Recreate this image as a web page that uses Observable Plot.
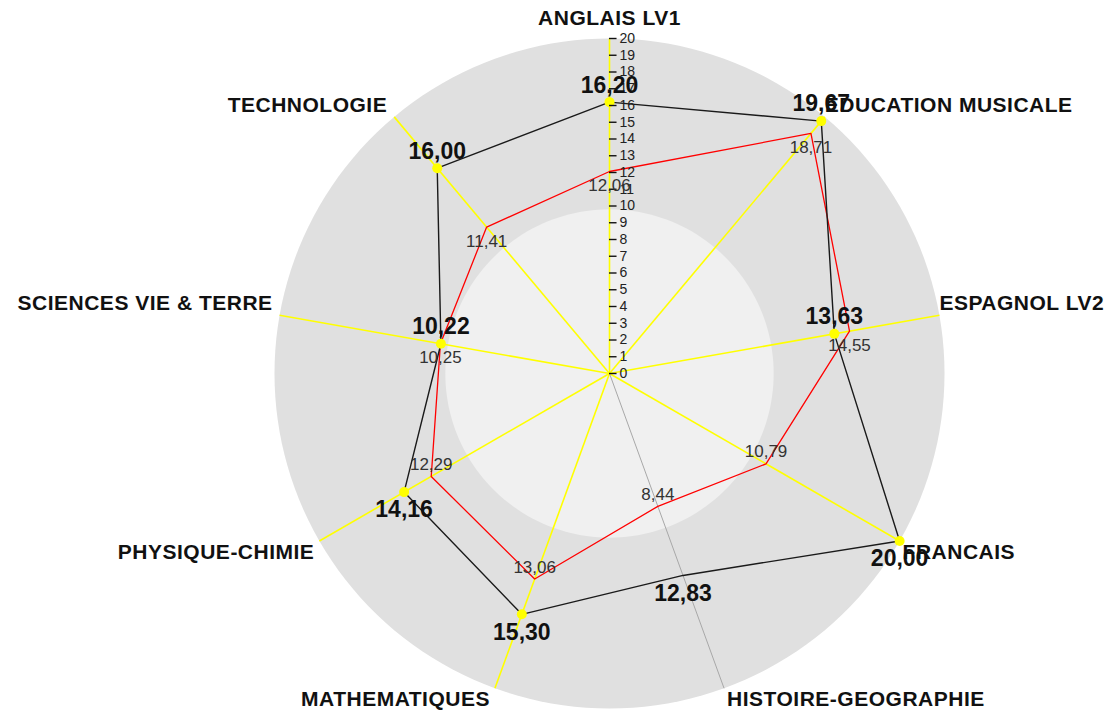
<!DOCTYPE html>
<html>
<head>
<meta charset="utf-8">
<script src="https://cdn.jsdelivr.net/npm/d3@7"></script>
<script src="https://cdn.jsdelivr.net/npm/@observablehq/plot@0.6"></script>
<style>
  html, body { margin: 0; padding: 0; background: #ffffff; }
</style>
</head>
<body>
<div id="chart"></div>
<script>
// ---- data ----
const subjects = ["ANGLAIS LV1", "EDUCATION MUSICALE", "ESPAGNOL LV2", "FRANCAIS",
  "HISTOIRE-GEOGRAPHIE", "MATHEMATIQUES", "PHYSIQUE-CHIMIE", "SCIENCES VIE & TERRE", "TECHNOLOGIE"];
const eleve = [16.20, 19.67, 13.63, 20.00, 12.83, 15.30, 14.16, 10.22, 16.00];
const classe = [12.06, 18.71, 14.55, 10.79, 8.44, 13.06, 12.29, 10.25, 11.41];
const tickValues = [0,1,2,3,4,5,6,7,8,9,10,11,12,13,14,15,16,17,18,19,20];
const maxValue = 20;
const innerValue = 9.8;

// ---- helpers ----
const rad = d => d * Math.PI / 180;
const n = subjects.length;
const angleOf = i => i * 360 / n;
const px = (v, a) => v * Math.sin(rad(a));
const py = (v, a) => v * Math.cos(rad(a));
const fmt = v => v.toFixed(2).replace(".", ",");

const axes = subjects.map((s, i) => ({s, a: angleOf(i)}));
const serie = vals => subjects.map((s, i) => ({s, v: vals[i], a: angleOf(i)}));
const eleveData = serie(eleve);
const classeData = serie(classe);
const circle = r => d3.range(0, 361, 2).map(a => ({x: px(r, a), y: py(r, a)}));

const isUpper = d => Math.cos(rad(d.a)) > 0;
const sinA = d => Math.sin(rad(d.a));

const font = "Liberation Sans, Arial, sans-serif";
const catSize = 21;

const chart = Plot.plot({
  width: 1115,
  height: 714,
  marginLeft: 274,
  marginRight: 171,
  marginTop: 38,
  marginBottom: 6,
  x: {domain: [-maxValue, maxValue], axis: null},
  y: {domain: [-maxValue, maxValue], axis: null},
  style: {fontFamily: font, background: "#ffffff", overflow: "visible"},
  marks: [
    // background discs
    Plot.line(circle(maxValue), {x: "x", y: "y", fill: "#e0e0e0", stroke: "none"}),
    Plot.line(circle(innerValue), {x: "x", y: "y", fill: "#f0f0f0", stroke: "none"}),
    // axes
    Plot.link(axes.filter(d => d.s !== "HISTOIRE-GEOGRAPHIE"), {
      x1: d => 0, y1: d => 0, x2: d => px(maxValue, d.a), y2: d => py(maxValue, d.a),
      stroke: "#ffff00", strokeWidth: 1.6
    }),
    Plot.link(axes.filter(d => d.s === "HISTOIRE-GEOGRAPHIE"), {
      x1: d => 0, y1: d => 0, x2: d => px(maxValue, d.a), y2: d => py(maxValue, d.a),
      stroke: "#a8a8a8", strokeWidth: 1
    }),
    // series polygons
    Plot.line(classeData, {x: d => px(d.v, d.a), y: d => py(d.v, d.a), curve: "linear-closed",
      stroke: "#ff0000", strokeWidth: 1.3}),
    Plot.line(eleveData, {x: d => px(d.v, d.a), y: d => py(d.v, d.a), curve: "linear-closed",
      stroke: "#1a1a1a", strokeWidth: 1.4}),
    // yellow markers on eleve points
    Plot.dot(eleveData.filter(d => d.s !== "HISTOIRE-GEOGRAPHIE"), {
      x: d => px(d.v, d.a), y: d => py(d.v, d.a), r: 5, fill: "#ffff00", stroke: "none"
    }),
    // scale ticks on first axis
    Plot.ruleY(tickValues, {y: d => d, x1: d => 0, x2: d => 0.45, stroke: "#111", strokeWidth: 1.4}),
    Plot.text(tickValues, {x: d => 0, y: d => d, text: d => String(d), dx: 10, textAnchor: "start",
      fontSize: 14, fill: "#222", fontFamily: font}),
    // classe value labels
    Plot.text(classeData.filter(isUpper), {x: d => px(d.v, d.a), y: d => py(d.v, d.a), text: d => fmt(d.v),
      dy: 14, fontSize: 17, fill: "#333", fontFamily: font}),
    Plot.text(classeData.filter(d => !isUpper(d)), {x: d => px(d.v, d.a), y: d => py(d.v, d.a), text: d => fmt(d.v),
      dy: -12, fontSize: 17, fill: "#333", fontFamily: font}),
    // eleve value labels
    Plot.text(eleveData.filter(isUpper), {x: d => px(d.v, d.a), y: d => py(d.v, d.a), text: d => fmt(d.v),
      dy: -17, fontSize: 23, fontWeight: "bold", fill: "#111", fontFamily: font}),
    Plot.text(eleveData.filter(d => !isUpper(d)), {x: d => px(d.v, d.a), y: d => py(d.v, d.a), text: d => fmt(d.v),
      dy: 18, fontSize: 23, fontWeight: "bold", fill: "#111", fontFamily: font}),
    // category labels
    Plot.text(axes.filter(d => Math.abs(sinA(d)) < 0.1), {x: d => px(maxValue, d.a), y: d => py(maxValue, d.a),
      text: "s", dy: -20, textAnchor: "middle", fontSize: catSize, fontWeight: "bold", fill: "#111", fontFamily: font}),
    Plot.text(axes.filter(d => sinA(d) >= 0.1 && isUpper(d)), {x: d => px(maxValue, d.a), y: d => py(maxValue, d.a),
      text: "s", dx: 0, dy: -12, textAnchor: "start", fontSize: catSize, fontWeight: "bold", fill: "#111", fontFamily: font}),
    Plot.text(axes.filter(d => sinA(d) >= 0.1 && !isUpper(d)), {x: d => px(maxValue, d.a), y: d => py(maxValue, d.a),
      text: "s", dx: 3, dy: 11, textAnchor: "start", fontSize: catSize, fontWeight: "bold", fill: "#111", fontFamily: font}),
    Plot.text(axes.filter(d => sinA(d) <= -0.1 && !isUpper(d)), {x: d => px(maxValue, d.a), y: d => py(maxValue, d.a),
      text: "s", dx: -5, dy: 11, textAnchor: "end", fontSize: catSize, fontWeight: "bold", fill: "#111", fontFamily: font}),
    Plot.text(axes.filter(d => sinA(d) <= -0.1 && isUpper(d)), {x: d => px(maxValue, d.a), y: d => py(maxValue, d.a),
      text: "s", dx: -7, dy: -12, textAnchor: "end", fontSize: catSize, fontWeight: "bold", fill: "#111", fontFamily: font})
  ]
});

d3.select(chart).selectAll("text")
  .filter(function() { return subjects.includes(this.textContent); })
  .attr("letter-spacing", "0.5px");

document.getElementById("chart").appendChild(chart);
</script>
</body>
</html>
